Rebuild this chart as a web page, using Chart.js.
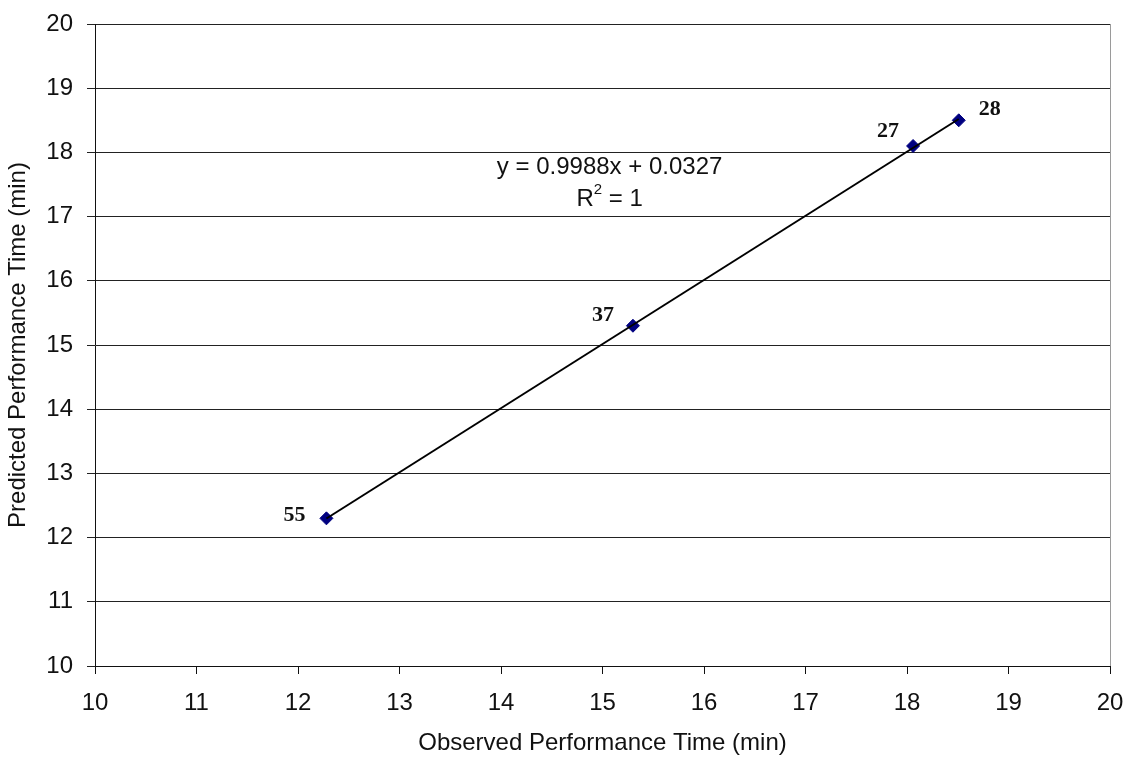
<!DOCTYPE html>
<html>
<head>
<meta charset="utf-8">
<script src="https://cdn.jsdelivr.net/npm/chart.js@4.4.0/dist/chart.umd.min.js"></script>
<style>
  html, body { margin: 0; padding: 0; background: #fff; }
  #wrap { width: 1132px; height: 758px; }
</style>
</head>
<body>
<div id="wrap"><canvas id="c" width="1132" height="758"></canvas></div>
<script>
// ---- data ----
const observed  = [12.28, 15.30, 18.06, 18.51];
const predicted = [12.30, 15.30, 18.10, 18.50];
const pointLabels = ['55', '37', '27', '28'];
const slope = 0.9988;
const intercept = 0.0327;
const rSquared = 1;
const axisTicks = [10, 11, 12, 13, 14, 15, 16, 17, 18, 19, 20];

// ---- drawing config ----
const labelOffsets = [[-32, -3], [-30, -10], [-25, -15], [31, -11]];
const eqAnchor = {x: 15.07, y: 17.76};

const xMin = Math.min(...observed), xMax = Math.max(...observed);
const trend = [
  {x: xMin, y: slope * xMin + intercept},
  {x: xMax, y: slope * xMax + intercept}
];

const sansFont = 'Arial, "Liberation Sans", sans-serif';

const extras = {
  id: 'extras',
  afterDatasetsDraw(chart) {
    const ctx = chart.ctx;
    const {chartArea, scales} = chart;
    ctx.save();
    // right border
    ctx.strokeStyle = '#9a9a9a';
    ctx.lineWidth = 1;
    ctx.beginPath();
    ctx.moveTo(Math.round(chartArea.right) + 0.5, chartArea.top);
    ctx.lineTo(Math.round(chartArea.right) + 0.5, chartArea.bottom);
    ctx.stroke();
    // point labels
    ctx.fillStyle = '#111';
    ctx.font = 'bold 22px "Liberation Serif", "Times New Roman", serif';
    ctx.textAlign = 'center';
    ctx.textBaseline = 'middle';
    observed.forEach((xv, i) => {
      const px = scales.x.getPixelForValue(xv);
      const py = scales.y.getPixelForValue(predicted[i]);
      ctx.fillText(pointLabels[i], px + labelOffsets[i][0], py + labelOffsets[i][1]);
    });
    // equation
    const ex = scales.x.getPixelForValue(eqAnchor.x);
    const ey = scales.y.getPixelForValue(eqAnchor.y);
    ctx.font = '24px ' + sansFont;
    ctx.fillStyle = '#111';
    ctx.fillText('y = ' + slope.toFixed(4) + 'x + ' + intercept.toFixed(4), ex, ey);
    // R^2 line
    const r1 = 'R', r2 = '2', r3 = ' = ' + rSquared;
    const w1 = ctx.measureText(r1).width;
    const w3 = ctx.measureText(r3).width;
    ctx.font = '15px ' + sansFont;
    const w2 = ctx.measureText(r2).width;
    const total = w1 + w2 + w3;
    let sx = ex - total / 2;
    const ry = ey + 32;
    ctx.textAlign = 'left';
    ctx.font = '24px ' + sansFont;
    ctx.fillText(r1, sx, ry);
    ctx.font = '15px ' + sansFont;
    ctx.fillText(r2, sx + w1, ry - 10);
    ctx.font = '24px ' + sansFont;
    ctx.fillText(r3, sx + w1 + w2, ry);
    ctx.restore();
  }
};

new Chart(document.getElementById('c'), {
  type: 'scatter',
  data: {
    datasets: [
      {
        label: 'Trend',
        data: trend,
        showLine: true,
        borderColor: '#000',
        borderWidth: 2,
        pointRadius: 0,
        fill: false
      },
      {
        label: 'Performance',
        data: observed.map((x, i) => ({x, y: predicted[i]})),
        pointStyle: 'rectRot',
        pointRadius: 6.5,
        backgroundColor: '#000080',
        borderColor: '#000080',
        borderWidth: 1
      }
    ]
  },
  options: {
    responsive: false,
    animation: false,
    layout: { padding: { top: 24, right: 22, left: 0, bottom: 0 } },
    plugins: { legend: { display: false }, tooltip: { enabled: false } },
    scales: {
      x: {
        type: 'linear', min: 10, max: 20,
        afterBuildTicks(s) { s.ticks = axisTicks.map(v => ({value: v})); },
        afterFit(s) { s.height = 92; s.paddingLeft = 0; s.paddingRight = 0; },
        ticks: { color: '#111', font: { family: sansFont, size: 24 }, padding: 15, maxRotation: 0 },
        grid: { drawOnChartArea: false, drawTicks: true, tickLength: 8, color: '#111' },
        border: { color: '#111', width: 1 },
        title: { display: true, text: 'Observed Performance Time (min)', color: '#111',
                 font: { family: sansFont, size: 24 }, padding: { top: 0, bottom: 0 } }
      },
      y: {
        type: 'linear', min: 10, max: 20,
        afterBuildTicks(s) { s.ticks = axisTicks.map(v => ({value: v})); },
        afterFit(s) { s.width = 95; s.paddingTop = 0; s.paddingBottom = 0; },
        ticks: { color: '#111', font: { family: sansFont, size: 24 }, padding: 14 },
        grid: { color: '#222', lineWidth: 1, tickLength: 8 },
        border: { color: '#111', width: 1 },
        title: { display: true, text: 'Predicted Performance Time (min)', color: '#111',
                 font: { family: sansFont, size: 24 }, padding: { top: 4, bottom: 0 } }
      }
    }
  },
  plugins: [extras]
});
</script>
</body>
</html>
